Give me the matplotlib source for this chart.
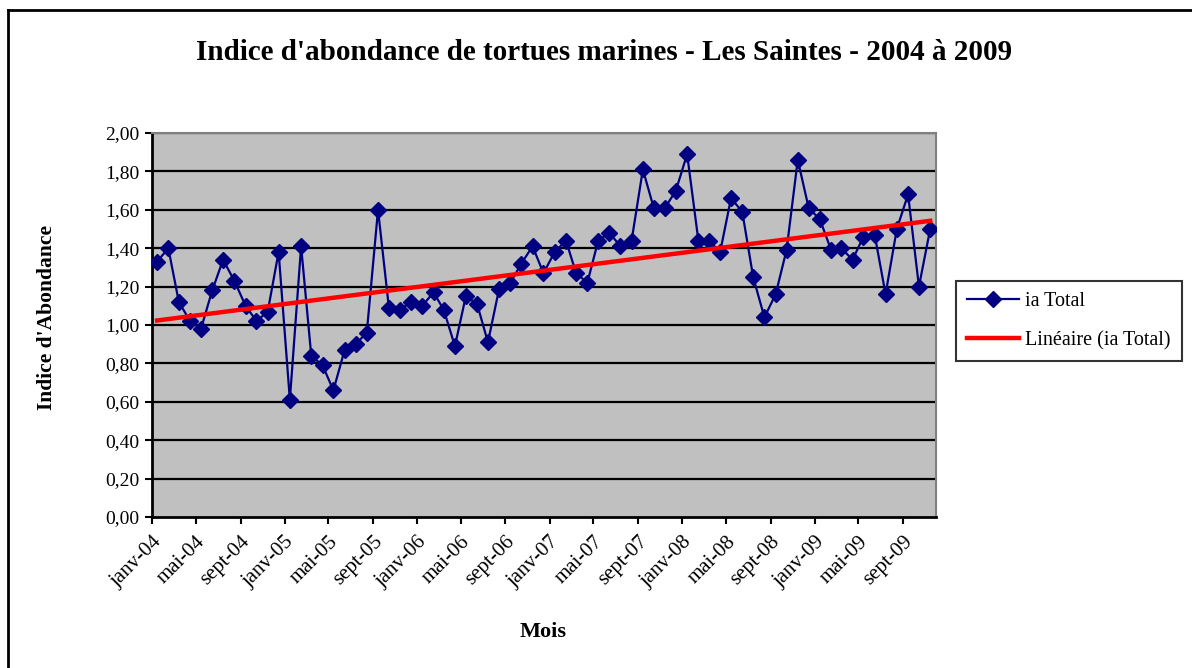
import matplotlib
matplotlib.use("Agg")
import matplotlib.pyplot as plt
import matplotlib.dates as mdates
import numpy as np
import pandas as pd
from matplotlib.lines import Line2D

# ---- data ----
start_month = "2004-01"
ia_total = [1.33, 1.40, 1.12, 1.02, 0.98, 1.18, 1.34, 1.23, 1.10, 1.02, 1.07, 1.38,
            0.61, 1.41, 0.84, 0.79, 0.66, 0.87, 0.90, 0.96, 1.60, 1.09, 1.08, 1.12,
            1.10, 1.17, 1.08, 0.89, 1.15, 1.11, 0.91, 1.19, 1.22, 1.32, 1.41, 1.27,
            1.38, 1.44, 1.27, 1.22, 1.44, 1.48, 1.41, 1.44, 1.81, 1.61, 1.61, 1.70,
            1.89, 1.44, 1.44, 1.38, 1.66, 1.59, 1.25, 1.04, 1.16, 1.39, 1.86, 1.61,
            1.55, 1.39, 1.40, 1.34, 1.46, 1.47, 1.16, 1.50, 1.68, 1.20, 1.50]
tick_labels = ["janv-04", "mai-04", "sept-04", "janv-05", "mai-05", "sept-05",
               "janv-06", "mai-06", "sept-06", "janv-07", "mai-07", "sept-07",
               "janv-08", "mai-08", "sept-08", "janv-09", "mai-09", "sept-09"]
y_ticks = [0.0, 0.2, 0.4, 0.6, 0.8, 1.0, 1.2, 1.4, 1.6, 1.8, 2.0]

title = "Indice d'abondance de tortues marines - Les Saintes - 2004 à 2009"
xlabel = "Mois"
ylabel = "Indice d'Abondance"
series_name = "ia Total"
trend_name = "Linéaire (ia Total)"

# ---- build ----
months = pd.date_range(start_month + "-01", periods=len(ia_total), freq="MS")
dates = pd.to_datetime([f"{d.year}-{d.month:02d}-15" for d in months])
xnum = mdates.date2num(dates)
tick_dates = pd.date_range(start_month + "-01", periods=len(tick_labels), freq="4MS")
xmin = mdates.date2num(pd.Timestamp(start_month + "-01"))
xmax = mdates.date2num(pd.Timestamp("2009-12-01"))

coef = np.polyfit(xnum, np.array(ia_total), 1)
trend = np.polyval(coef, xnum)

plt.rcParams['font.family'] = ['Liberation Serif', 'DejaVu Serif']

W, H = 1192, 668
fig = plt.figure(figsize=(W / 100, H / 100), dpi=100)
fig.patch.set_facecolor("white")

# outer frame (left and top visible)
fig.add_artist(Line2D([8 / W, 8 / W], [0, 1 - 10 / H], transform=fig.transFigure, color="black", lw=2))
fig.add_artist(Line2D([8 / W, 1], [1 - 10 / H, 1 - 10 / H], transform=fig.transFigure, color="black", lw=2))

ax = fig.add_axes([152 / W, 1 - 517 / H, (936 - 152) / W, (517 - 133) / H])
ax.set_facecolor("#C0C0C0")

for y in y_ticks[1:]:
    ax.axhline(y, color="black", lw=1.6, zorder=1)

ax.plot(xnum, ia_total, color="#000080", lw=1.6, marker="D", markersize=8.5,
        markerfacecolor="#000080", markeredgecolor="#000080", zorder=3, label=series_name)
ax.plot(xnum, trend, color="#FF0000", lw=3.2, zorder=4, label=trend_name)

ax.set_xlim(xmin, xmax)
ax.set_ylim(0, 2.0)
ax.set_yticks(y_ticks)
ax.set_yticklabels([f"{v:.2f}".replace(".", ",") for v in y_ticks], fontsize=14)
ax.set_xticks(mdates.date2num(tick_dates))
ax.set_xticklabels(tick_labels, rotation=45, ha="right", rotation_mode="anchor", fontsize=15)
ax.tick_params(axis="both", direction="out", length=5, width=1.5, color="black")
ax.tick_params(axis="x", pad=6)
ax.tick_params(axis="y", pad=4)

for side in ["left", "bottom"]:
    ax.spines[side].set_color("black")
    ax.spines[side].set_linewidth(2)
for side in ["top", "right"]:
    ax.spines[side].set_color("#808080")
    ax.spines[side].set_linewidth(1.5)

fig.text(604 / W, 1 - 53 / H, title, ha="center", va="center", fontsize=21, fontweight="bold")
fig.text(47 / W, 1 - 318 / H, ylabel, ha="center", va="center", rotation=90, fontsize=15.5, fontweight="bold")
fig.text(543 / W, 1 - 632 / H, xlabel, ha="center", va="center", fontsize=16, fontweight="bold")

leg = ax.legend(loc="center left", bbox_to_anchor=(956 / W, 1 - 321 / H), bbox_transform=fig.transFigure,
                frameon=True, fancybox=False, edgecolor="black", fontsize=14.5, handlelength=2.6,
                borderpad=0.55, labelspacing=1.0, handletextpad=0.3, borderaxespad=0)
leg.get_frame().set_linewidth(1.5)

fig.savefig("out.png", dpi=100, facecolor="white")
